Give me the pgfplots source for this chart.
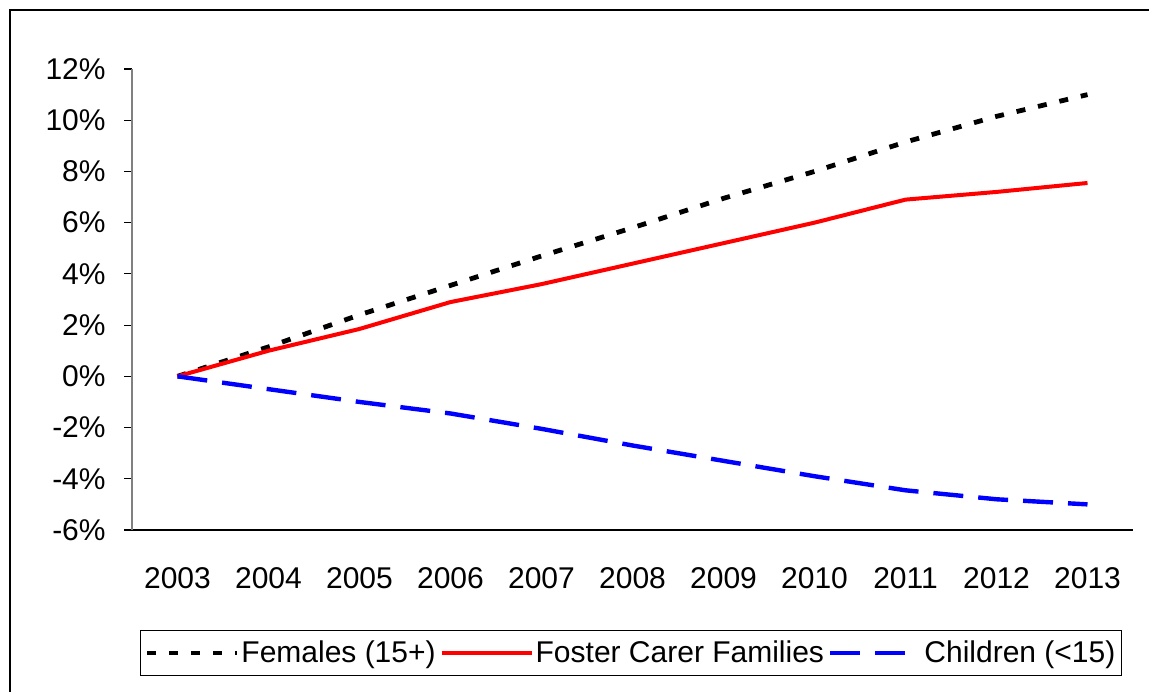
\documentclass[border=0pt]{standalone}
\usepackage{fontspec}
\setmainfont{Liberation Sans}
\usepackage{pgfplots}
\pgfplotsset{compat=1.18}
\begin{document}
\begin{tikzpicture}
\useasboundingbox (0,0) rectangle (574.5pt,345.5pt);
\draw[line width=1pt] (5pt,-20pt) -- (5pt,340.5pt) -- (600pt,340.5pt);
\begin{axis}[
  at={(66pt,80.5pt)}, anchor=south west,
  scale only axis, width=500.5pt, height=230.5pt,
  xmin=-0.5, xmax=10.5, ymin=-6, ymax=12,
  axis x line*=bottom, axis y line*=left,
  x axis line style={black, line width=0.75pt, -},
  y axis line style={gray, line width=0.75pt, -},
  tick align=outside,
  xtick={0,...,10},
  xticklabels={2003,2004,2005,2006,2007,2008,2009,2010,2011,2012,2013},
  xtick style={draw=none},
  minor xtick={-0.5,0.5,...,10.5},
  minor tick length=5pt,
  major tick length=4pt,
  minor x tick style={black, line width=0.75pt},
  ytick={-6,-4,...,12},
  yticklabels={-6\%,-4\%,-2\%,0\%,2\%,4\%,6\%,8\%,10\%,12\%},
  ytick style={black, line width=0.6pt},
  tick label style={font=\fontsize{15}{18}\selectfont},
  xticklabel style={inner sep=0pt, anchor=north, yshift=-14.5pt},
  yticklabel style={inner sep=0pt, anchor=east, xshift=-9pt},
  clip=false,
  legend columns=3,
  legend style={at={(0.4985,-0.2668)}, anchor=center, draw=black, line width=0.75pt,
    font=\fontsize{15}{18}\selectfont, inner xsep=2pt, inner ysep=4pt,
    nodes={inner sep=1pt},
    /tikz/every even column/.append style={column sep=1pt}},
  legend image code/.code={\draw[#1] (0pt,0pt) -- (45pt,0pt);},
]
\addplot[black, line width=2.4pt, dash pattern=on 4.5pt off 6.5pt] coordinates {
(0,0) (1,1.15) (2,2.4) (3,3.55) (4,4.7) (5,5.8) (6,6.95) (7,8.0) (8,9.15) (9,10.15) (10,11.0)};
\addlegendentry{Females (15+)}
\addplot[red, line width=2pt] coordinates {
(0,0) (1,1.0) (2,1.85) (3,2.9) (4,3.6) (5,4.4) (6,5.2) (7,6.0) (8,6.9) (9,7.2) (10,7.55)};
\addlegendentry{Foster Carer Families}
\addplot[blue, line width=2.2pt, dash pattern=on 15pt off 7.5pt] coordinates {
(0,0) (1,-0.5) (2,-1.0) (3,-1.45) (4,-2.05) (5,-2.7) (6,-3.3) (7,-3.9) (8,-4.45) (9,-4.8) (10,-5.0)};
\addlegendentry{Children (<15)}
\end{axis}
\end{tikzpicture}
\end{document}
